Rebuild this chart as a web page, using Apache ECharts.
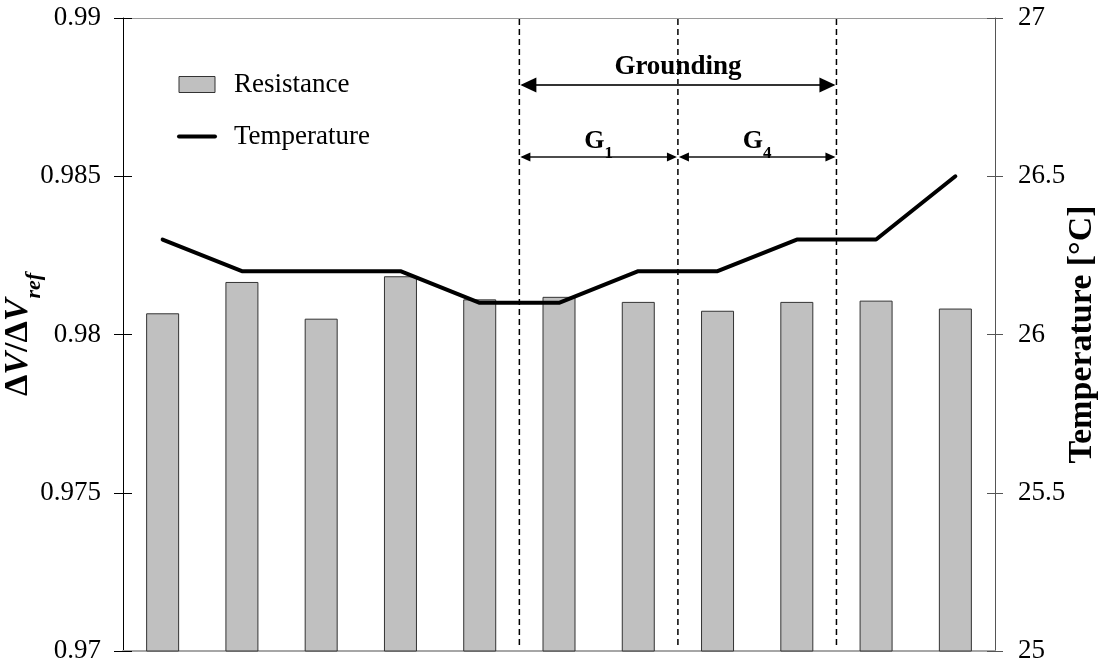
<!DOCTYPE html>
<html>
<head>
<meta charset="utf-8">
<script src="https://cdn.jsdelivr.net/npm/echarts@6/dist/echarts.min.js"></script>
<style>
  html, body { margin: 0; padding: 0; background: #fff; }
  #chart { width: 1102px; height: 668px; }
</style>
</head>
<body>
<div id="chart"></div>
<script>
// Measurement steps 1..11
const steps = ['1', '2', '3', '4', '5', '6', '7', '8', '9', '10', '11'];
// Normalised voltage ratio ΔV/ΔVref per step
const resistance = [0.98067, 0.98166, 0.98050, 0.98184, 0.98111, 0.98119, 0.98103, 0.98075, 0.98103, 0.98107, 0.98082];
// Temperature in °C per step
const temperature = [26.3, 26.2, 26.2, 26.2, 26.1, 26.1, 26.2, 26.2, 26.3, 26.3, 26.5];
// Phase boundaries (in step-slot units) and phase spans
const phaseBoundaries = [5, 7, 9];
const phaseNames = ['Grounding', 'G', 'G'];
const phaseSubs = ['', '1', '4'];
const phaseFrom = [5, 5, 7];
const phaseTo = [9, 7, 9];
const phaseLevel = [0, 1, 1];

const SERIF = 'Liberation Serif, Times New Roman, serif';

const phaseData = phaseNames.map((n, i) => [phaseFrom[i], phaseTo[i], phaseLevel[i], i]);

function renderBoundary(params, api) {
  const cs = params.coordSys;
  const x = api.coord([api.value(0), 0.98])[0];
  return {
    type: 'line',
    shape: { x1: x, y1: cs.y + 1, x2: x, y2: cs.y + cs.height - 6 },
    style: { stroke: '#000', lineWidth: 1.5, lineDash: [6, 4] }
  };
}

function renderPhase(params, api) {
  const cs = params.coordSys;
  const from = api.value(0), to = api.value(1), level = api.value(2), idx = api.value(3);
  const x1 = api.coord([from, 0.98])[0] + 1;
  const x2 = api.coord([to, 0.98])[0] - 1;
  const big = level === 0;
  const y = cs.y + (big ? 67 : 139);
  const L = big ? 16 : 10, H = big ? 7.5 : 4.5;
  const name = phaseNames[idx], sub = phaseSubs[idx];
  const text = sub ? '{b|' + name + '}{s|' + sub + '}' : '{b|' + name + '}';
  return {
    type: 'group',
    children: [
      { type: 'line', shape: { x1: x1 + 2, y1: y, x2: x2 - 2, y2: y },
        style: { stroke: big ? '#333' : '#111', lineWidth: big ? 2 : 1.3 } },
      { type: 'polygon', shape: { points: [[x1, y], [x1 + L, y - H], [x1 + L, y + H]] },
        style: { fill: '#000' } },
      { type: 'polygon', shape: { points: [[x2, y], [x2 - L, y - H], [x2 - L, y + H]] },
        style: { fill: '#000' } },
      { type: 'text',
        style: {
          x: (x1 + x2) / 2, y: big ? y - 17 : y - 12,
          text: text, align: 'center', verticalAlign: 'middle',
          rich: {
            b: { fontFamily: SERIF, fontWeight: 'bold', fontSize: big ? 27 : 26, lineHeight: 28, verticalAlign: 'top', fill: '#000' },
            s: { fontFamily: SERIF, fontWeight: 'bold', fontSize: 17, lineHeight: 34, verticalAlign: 'bottom', fill: '#000' }
          }
        } }
    ]
  };
}

const chart = echarts.init(document.getElementById('chart'), null, { renderer: 'canvas' });

const tickLabel = { fontFamily: SERIF, fontSize: 27, color: '#000' };

chart.setOption({
  animation: false,
  backgroundColor: '#fff',
  grid: { left: 123, right: 107, top: 18, bottom: 17, containLabel: false, outerBoundsMode: 'none' },
  legend: {
    orient: 'vertical',
    left: 177, top: 71, padding: 0,
    itemWidth: 36, itemHeight: 16, itemGap: 25,
    textStyle: { fontFamily: SERIF, fontSize: 27, color: '#000', padding: [0, 0, 0, 14] },
    data: [
      { name: 'Resistance', icon: 'rect', itemStyle: { color: '#c0c0c0', borderColor: '#333', borderWidth: 1 } },
      { name: 'Temperature', itemStyle: { opacity: 0 }, lineStyle: { color: '#000', width: 4 } }
    ]
  },
  xAxis: [
    {
      type: 'category', data: steps, boundaryGap: true,
      axisLine: { show: true, lineStyle: { color: '#a6a6a6', width: 2 } },
      axisTick: { show: false }, axisLabel: { show: false }, splitLine: { show: false }
    },
    {
      type: 'value', min: 0, max: 11, position: 'top',
      axisLine: { show: true, onZero: false, lineStyle: { color: '#9a9a9a', width: 1 } },
      axisTick: { show: false }, axisLabel: { show: false }, splitLine: { show: false }
    }
  ],
  yAxis: [
    {
      type: 'value', min: 0.97, max: 0.99, interval: 0.005, position: 'left',
      name: '{d|Δ}{v|V}{d|/Δ}{v|V}{s|ref}', nameLocation: 'middle', nameRotate: 90,
      nameGap: 78, nameMoveOverlap: false,
      nameTextStyle: {
        rich: {
          d: { fontFamily: SERIF, fontWeight: 'bold', fontSize: 34, lineHeight: 36, verticalAlign: 'top', color: '#000' },
          v: { fontFamily: SERIF, fontWeight: 'bold', fontStyle: 'italic', fontSize: 34, lineHeight: 36, verticalAlign: 'top', color: '#000' },
          s: { fontFamily: SERIF, fontWeight: 'bold', fontStyle: 'italic', fontSize: 22, lineHeight: 44, verticalAlign: 'bottom', color: '#000' }
        }
      },
      axisLine: { show: true, lineStyle: { color: '#000', width: 1 } },
      axisTick: { show: true, inside: false, length: 9, lineStyle: { color: '#000' } },
      axisLabel: Object.assign({ margin: 22 }, tickLabel),
      splitLine: { show: false }
    },
    {
      type: 'value', min: 25, max: 27, interval: 0.5, position: 'right',
      name: 'Temperature [°C]', nameLocation: 'middle', nameRotate: 90,
      nameGap: 70, nameMoveOverlap: false,
      nameTextStyle: { fontFamily: SERIF, fontWeight: 'bold', fontSize: 34, color: '#000' },
      axisLine: { show: true, lineStyle: { color: '#555', width: 1 } },
      axisTick: { show: true, inside: false, length: 8, lineStyle: { color: '#555' } },
      axisLabel: Object.assign({ margin: 23 }, tickLabel),
      splitLine: { show: false }
    },
    {
      type: 'value', min: 0.97, max: 0.99, interval: 0.005, position: 'left',
      axisLine: { show: false },
      axisTick: { show: true, inside: true, length: 9, lineStyle: { color: '#000' } },
      axisLabel: { show: false }, splitLine: { show: false }
    },
    {
      type: 'value', min: 25, max: 27, interval: 0.5, position: 'right',
      axisLine: { show: false },
      axisTick: { show: true, inside: true, length: 8, lineStyle: { color: '#555' } },
      axisLabel: { show: false }, splitLine: { show: false }
    }
  ],
  series: [
    {
      name: 'Resistance', type: 'bar', xAxisIndex: 0, yAxisIndex: 0,
      data: resistance, barWidth: 33,
      itemStyle: { color: '#c0c0c0', borderColor: '#333', borderWidth: 1 },
      z: 2
    },
    {
      name: 'Temperature', type: 'line', xAxisIndex: 0, yAxisIndex: 1,
      data: temperature, symbol: 'none', showSymbol: false,
      lineStyle: { color: '#000', width: 4, join: 'round', cap: 'round' },
      itemStyle: { color: '#000' },
      z: 4
    },
    {
      name: 'boundaries', type: 'custom', xAxisIndex: 1, yAxisIndex: 0,
      data: phaseBoundaries.map(b => [b]), renderItem: renderBoundary,
      clip: false, silent: true, z: 3
    },
    {
      name: 'phases', type: 'custom', xAxisIndex: 1, yAxisIndex: 0,
      data: phaseData, renderItem: renderPhase,
      encode: { x: [0, 1], y: 2 },
      clip: false, silent: true, z: 5
    }
  ]
});
</script>
</body>
</html>
